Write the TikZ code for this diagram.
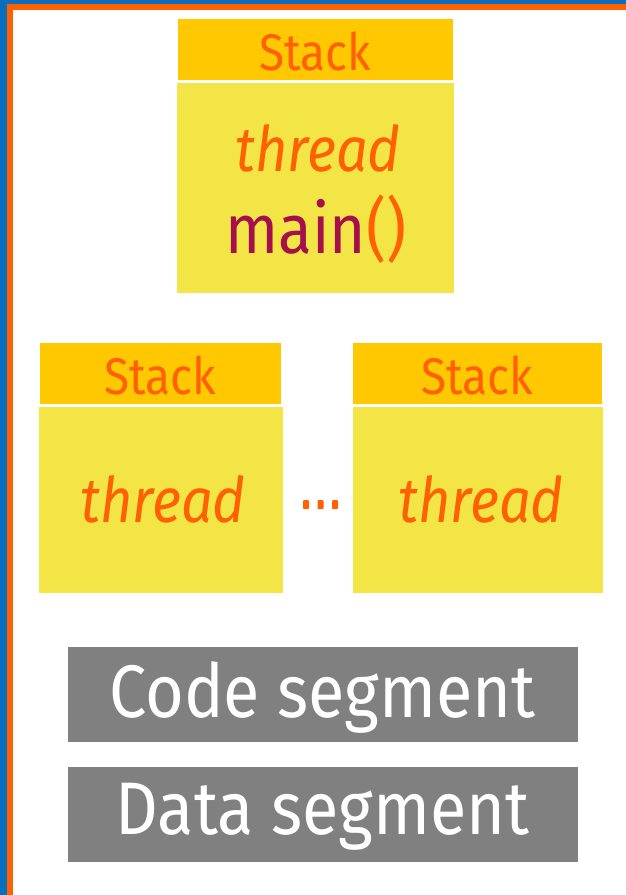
\documentclass[tikz,border=0pt]{standalone}
\usepackage{fontspec}
\setmainfont{Fira Sans}
\definecolor{hdr}{HTML}{FFC800}
\definecolor{bdy}{HTML}{F3E546}
\definecolor{org}{HTML}{FF6000}
\definecolor{blu}{HTML}{0A6EBE}
\definecolor{mar}{HTML}{A50F4B}
\definecolor{gry}{HTML}{808080}
\newcommand{\tall}[1]{\scalebox{1}[1.12]{#1}}
\begin{document}
\begin{tikzpicture}[x=1pt,y=-1pt,
  hdrbox/.style={fill=hdr, draw=none},
  bdybox/.style={fill=bdy, draw=none},
  segbox/.style={fill=gry, draw=none},
  lbl/.style={inner sep=0pt, anchor=center},
]
\useasboundingbox (0,0) rectangle (626,895);
% borders
\fill[blu] (0,0) rectangle (626,895);
\fill[org] (7,4) rectangle (626,895);
\fill[white] (13,10) rectangle (626,895);
% top stack
\fill[hdrbox] (178,19) rectangle (453,80);
\fill[bdybox] (177,83) rectangle (454,293);
\node[lbl, text=org] (s1) at (315.5,51) {\tall{\fontsize{46}{50}\selectfont Stack}};
\node[lbl, text=org] (t1) at (318,148) {\tall{\fontsize{56}{60}\selectfont\itshape thread}};
\node[lbl] (m1) at (316,229) {\tall{\fontsize{62}{66}\selectfont\textcolor{mar}{main}\textcolor{org}{()}}};
% left stack
\fill[hdrbox] (40,343) rectangle (281,404);
\fill[bdybox] (39,407) rectangle (283,593);
\node[lbl, text=org] (s2) at (160.5,375) {\tall{\fontsize{46}{50}\selectfont Stack}};
\node[lbl, text=org] (t2) at (163,499) {\tall{\fontsize{56}{60}\selectfont\itshape thread}};
% right stack
\fill[hdrbox] (353,343) rectangle (602,404);
\fill[bdybox] (353,407) rectangle (603,593);
\node[lbl, text=org] (s3) at (477.5,375) {\tall{\fontsize{46}{50}\selectfont Stack}};
\node[lbl, text=org] (t3) at (481,499) {\tall{\fontsize{56}{60}\selectfont\itshape thread}};
% dots
\foreach \dx in {0,14.5,29} {\fill[org, rounded corners=1pt] (303+\dx,509) rectangle ++(6,-9);}
% segments
\fill[segbox] (68,647) rectangle (578,742);
\node[lbl, text=white] (cs) at (322.5,697) {\tall{\fontsize{66.5}{70}\selectfont Code segment}};
\fill[segbox] (68,767) rectangle (578,862);
\node[lbl, text=white] (ds) at (322.5,817) {\tall{\fontsize{66.5}{70}\selectfont Data segment}};
\end{tikzpicture}
\end{document}
